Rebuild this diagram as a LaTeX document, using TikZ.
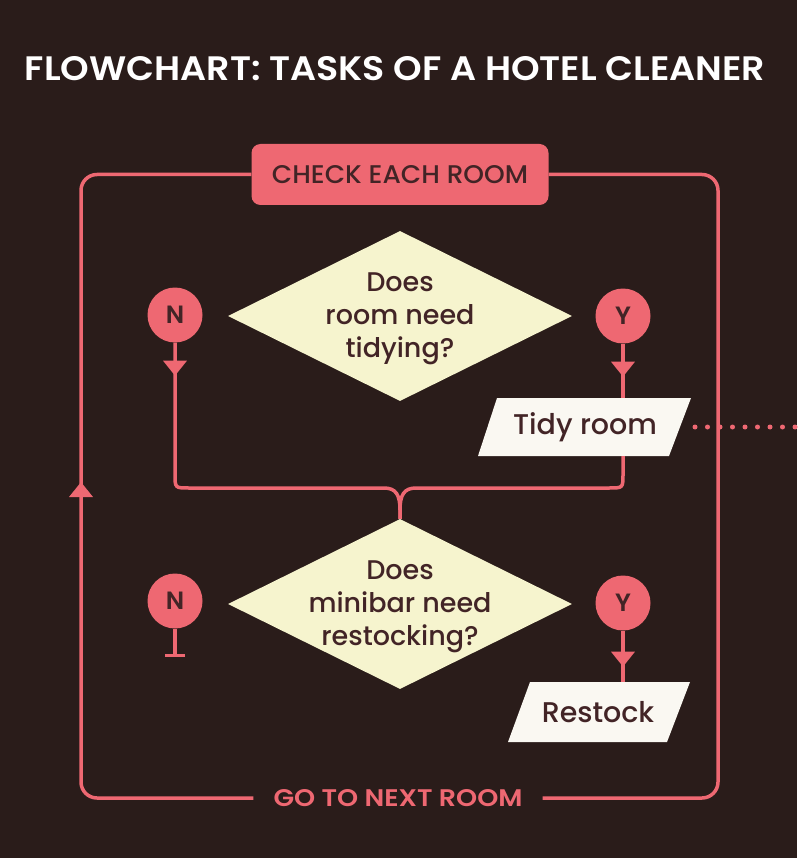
\documentclass[tikz,border=0pt]{standalone}
\usepackage{fontspec}
\setmainfont{Poppins}
\newfontfamily\mediumface{Poppins Medium}
\newfontfamily\headface{Poppins SemiBold}
\usetikzlibrary{shapes.geometric,arrows.meta,decorations.markings}

\definecolor{bgbrown}{RGB}{42,28,26}
\definecolor{flowpink}{RGB}{238,104,114}
\definecolor{inkbrown}{RGB}{66,36,38}
\definecolor{cream}{RGB}{246,244,206}
\definecolor{slab}{RGB}{250,248,242}

\tikzset{
  link/.style={flowpink, line width=3.5pt},
  outerloop/.style={link, rounded corners=16pt},
  decision/.style={diamond, fill=cream, aspect=2, minimum width=344pt,
    minimum height=170pt, inner sep=0pt},
  decisiontext/.style={align=center, text=inkbrown, inner sep=0pt, yshift=-3pt,
    font=\mediumface\fontsize{27}{33}\selectfont},
  answer/.style={circle, fill=flowpink, minimum size=55pt, inner sep=0pt,
    text=inkbrown, font=\headface\fontsize{25}{25}\selectfont},
  task/.style={inner sep=0pt, text=inkbrown, font=\mediumface\fontsize{28.5}{29}\selectfont},
  midtip/.style={postaction={decorate}, decoration={markings,
    mark=at position #1 with {\arrow{Triangle[width=23pt,length=15pt]}}}},
}

\begin{document}
\begin{tikzpicture}[x=1pt,y=-1pt]
\fill[bgbrown] (0,0) rectangle (797,858);
\useasboundingbox (0,0) rectangle (797,858);

% heading
\node[inner sep=0pt, text=white] (title) at (395,69)
  {\resizebox{740pt}{24pt}{\headface FLOWCHART: TASKS OF A HOTEL CLEANER}};

% start and end of the loop
\node[fill=flowpink, rounded corners=9pt, minimum width=297pt,
  minimum height=61pt, inner sep=0pt] (check) at (400,174.5)
  {\resizebox{256pt}{18pt}{\color{inkbrown}\mediumface CHECK EACH ROOM}};
\node[inner xsep=20pt, inner ysep=0pt, text=flowpink] (next) at (398,798)
  {\resizebox{249pt}{17pt}{\headface GO TO NEXT ROOM}};

\coordinate (loopNE) at (718,174.5);
\coordinate (loopSE) at (718,798);
\coordinate (loopSW) at (81,798);
\coordinate (loopNW) at (81,174.5);
\draw[outerloop] (check.east) -- (loopNE) -- (loopSE) -- (next.east);
\draw[outerloop] (next.west) -- (loopSW) -- (loopNW) -- (check.west);
\path[link, midtip=316pt] (loopSW) -- (loopNW);

% decisions
\node[decision, label={[decisiontext]center:Does\\room need\\tidying?}]
  (room) at (400,316) {};
\node[decision, label={[decisiontext]center:Does\\minibar need\\restocking?}]
  (minibar) at (400,604) {};

% answers
\node[answer] (n1) at (175,315) {N};
\node[answer] (y1) at (623,316) {Y};
\node[answer] (n2) at (175,601) {N};
\node[answer] (y2) at (623,603) {Y};

% tasks
\fill[slab] (478,456) -- (497,398) -- (691,398) -- (669,456) -- cycle;
\node[task, minimum width=170pt, minimum height=58pt] (tidy) at (585,427) {Tidy room};
\fill[slab] (508,742) -- (530,682) -- (690,682) -- (667,742) -- cycle;
\node[task, minimum width=150pt, minimum height=60pt] (restock) at (598,712) {Restock};

% first decision: both branches merge above the second decision
\draw[link, midtip=33pt] (y1) -- (y1 |- tidy.north);
\draw[link, midtip=33pt]
  (n1) -- (175,474) .. controls (175,488) .. (189,488) -- (384,488)
  .. controls (396,488) and (400,495) .. (400,510) -- (minibar.north);
\draw[link]
  (y1 |- tidy.south) -- (623,474) .. controls (623,488) .. (609,488) -- (416,488)
  .. controls (404,488) and (400,495) .. (400,510) -- (minibar.north);

% second decision
\coordinate (n2stop) at (175,657);
\draw[link, -{Bar[width=20pt]}] (n2) -- (n2stop);
\draw[link, midtip=36pt] (y2) -- (y2 |- restock.north);

% dotted lead to the right
\coordinate (dotstart) at (695,427);
\coordinate (dotend) at (800,427);
\draw[flowpink, line width=5pt, line cap=round, dash pattern=on 0pt off 12.5pt]
  (dotstart) -- (dotend);
\end{tikzpicture}
\end{document}
